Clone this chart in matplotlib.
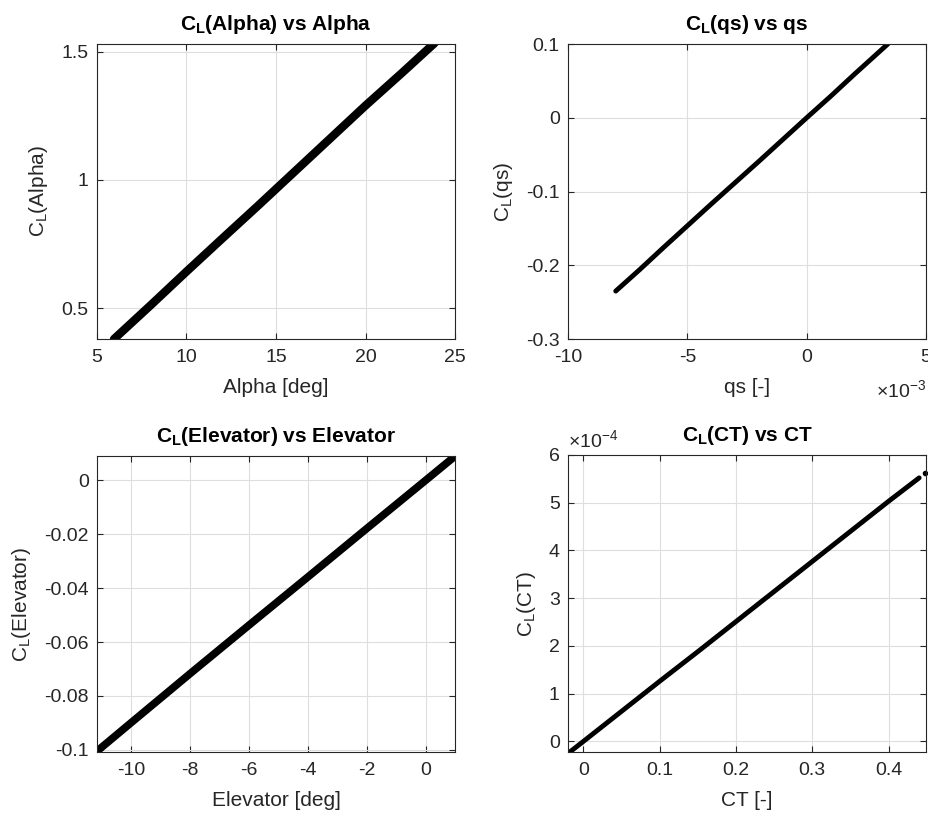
import numpy as np
import matplotlib
matplotlib.use("Agg")
import matplotlib.pyplot as plt
from matplotlib.ticker import FuncFormatter

plt.rcParams['font.family'] = ['Liberation Sans', 'DejaVu Sans']
plt.rcParams['mathtext.fontset'] = 'custom'
plt.rcParams['mathtext.rm'] = 'Liberation Sans'
plt.rcParams['mathtext.bf'] = 'Liberation Sans:bold'
plt.rcParams['mathtext.it'] = 'Liberation Sans:italic'
plt.rcParams['axes.unicode_minus'] = False

# values
alpha = [5.95, 8, 10, 12, 14, 16, 18, 20, 22, 23.85]
cl_alpha = [0.38, 0.512, 0.643, 0.772, 0.900, 1.030, 1.160, 1.290, 1.415, 1.533]

qs = [-0.0080, -0.0070, -0.0060, -0.0040, -0.0020, 0.0, 0.0010, 0.0020, 0.0034]
cl_qs = [-0.235, -0.206, -0.176, -0.117, -0.059, 0.0, 0.029, 0.059, 0.100]

elevator = [-11.15, -10, -8, -6, -4, -2, 0, 1.0]
cl_elev = [-0.1005, -0.0900, -0.0718, -0.0538, -0.0359, -0.0179, 0.0, 0.009]

ct = [-0.02, 0.0, 0.05, 0.1, 0.15, 0.2, 0.25, 0.3, 0.35, 0.4, 0.44, 0.448]
cl_ct = [-0.25e-4, 0.0, 0.63e-4, 1.26e-4, 1.88e-4, 2.51e-4, 3.14e-4, 3.77e-4,
         4.40e-4, 5.03e-4, 5.52e-4, 5.62e-4]

txt = '#262626'
TICK = 14
LAB = 15
TIT = 15

fig = plt.figure(figsize=(9.29, 8.15), dpi=100)
pos = [[0.1044, 0.584, 0.3854, 0.362],
       [0.6114, 0.584, 0.3854, 0.362],
       [0.1044, 0.0773, 0.3854, 0.363],
       [0.6114, 0.0773, 0.3854, 0.3645]]
axs = [fig.add_axes(p) for p in pos]


def style(ax):
    ax.grid(True, color='#dedede', linewidth=0.8)
    ax.set_axisbelow(True)
    ax.tick_params(direction='in', top=True, right=True, labelsize=TICK,
                   colors=txt, length=4, width=0.8)
    ax.tick_params(axis='x', pad=7)
    ax.tick_params(axis='y', pad=6)
    for s in ax.spines.values():
        s.set_color(txt)
        s.set_linewidth(0.8)


def labels(ax, title, xl, yl):
    ax.set_title(title, fontsize=TIT, fontweight='bold', pad=10)
    ax.set_xlabel(xl, fontsize=LAB, color=txt, labelpad=9)
    ax.set_ylabel(yl, fontsize=LAB, color=txt, labelpad=8)


# Alpha
ax = axs[0]
ax.plot(alpha, cl_alpha, 'k-', lw=6, solid_capstyle='round')
ax.set_xlim(5, 25)
ax.set_ylim(0.38, 1.53)
ax.set_xticks([5, 10, 15, 20, 25])
ax.set_yticks([0.5, 1, 1.5])
ax.yaxis.set_major_formatter(FuncFormatter(lambda v, p: '%g' % v))
labels(ax, r'$\mathbf{C_L}$(Alpha) vs Alpha', 'Alpha [deg]', r'$\mathrm{C_L}$(Alpha)')
style(ax)

# qs
ax = axs[1]
ax.plot(qs, cl_qs, 'k-', lw=3.5, solid_capstyle='round')
ax.set_xlim(-0.01, 0.005)
ax.set_ylim(-0.3, 0.1)
ax.set_xticks([-0.01, -0.005, 0, 0.005])
ax.set_yticks([-0.3, -0.2, -0.1, 0, 0.1])
ax.xaxis.set_major_formatter(FuncFormatter(lambda v, p: '%g' % round(v * 1e3, 6)))
ax.yaxis.set_major_formatter(FuncFormatter(lambda v, p: '%g' % round(v, 6)))
labels(ax, r'$\mathbf{C_L}$(qs) vs qs', 'qs [-]', r'$\mathrm{C_L}$(qs)')
ax.text(1.0, -0.172, r'$\times\mathrm{10^{-3}}$', transform=ax.transAxes,
        ha='right', va='center', fontsize=TICK, color=txt)
style(ax)

# Elevator
ax = axs[2]
ax.plot(elevator, cl_elev, 'k-', lw=5.5, solid_capstyle='round')
ax.set_xlim(-11.15, 1.0)
ax.set_ylim(-0.1008, 0.009)
ax.set_xticks([-10, -8, -6, -4, -2, 0])
ax.set_yticks([-0.1, -0.08, -0.06, -0.04, -0.02, 0])
ax.yaxis.set_major_formatter(FuncFormatter(lambda v, p: '%g' % round(v, 6)))
labels(ax, r'$\mathbf{C_L}$(Elevator) vs Elevator', 'Elevator [deg]', r'$\mathrm{C_L}$(Elevator)')
style(ax)

# CT
ax = axs[3]
ax.plot(ct[:-1], cl_ct[:-1], 'k-', lw=3.5, solid_capstyle='round')
ax.plot(ct[-1:], cl_ct[-1:], 'k.', ms=6, clip_on=False)
ax.set_xlim(-0.02, 0.449)
ax.set_ylim(-0.22e-4, 6e-4)
ax.set_xticks([0, 0.1, 0.2, 0.3, 0.4])
ax.set_yticks([0, 1e-4, 2e-4, 3e-4, 4e-4, 5e-4, 6e-4])
ax.xaxis.set_major_formatter(FuncFormatter(lambda v, p: '%g' % round(v, 6)))
ax.yaxis.set_major_formatter(FuncFormatter(lambda v, p: '%g' % round(v * 1e4, 6)))
labels(ax, r'$\mathbf{C_L}$(CT) vs CT', 'CT [-]', r'$\mathrm{C_L}$(CT)')
ax.text(0.0, 1.012, r'$\times\mathrm{10^{-4}}$', transform=ax.transAxes,
        ha='left', va='bottom', fontsize=TICK, color=txt)
style(ax)

fig.savefig('out.png', dpi=100, facecolor='white')
